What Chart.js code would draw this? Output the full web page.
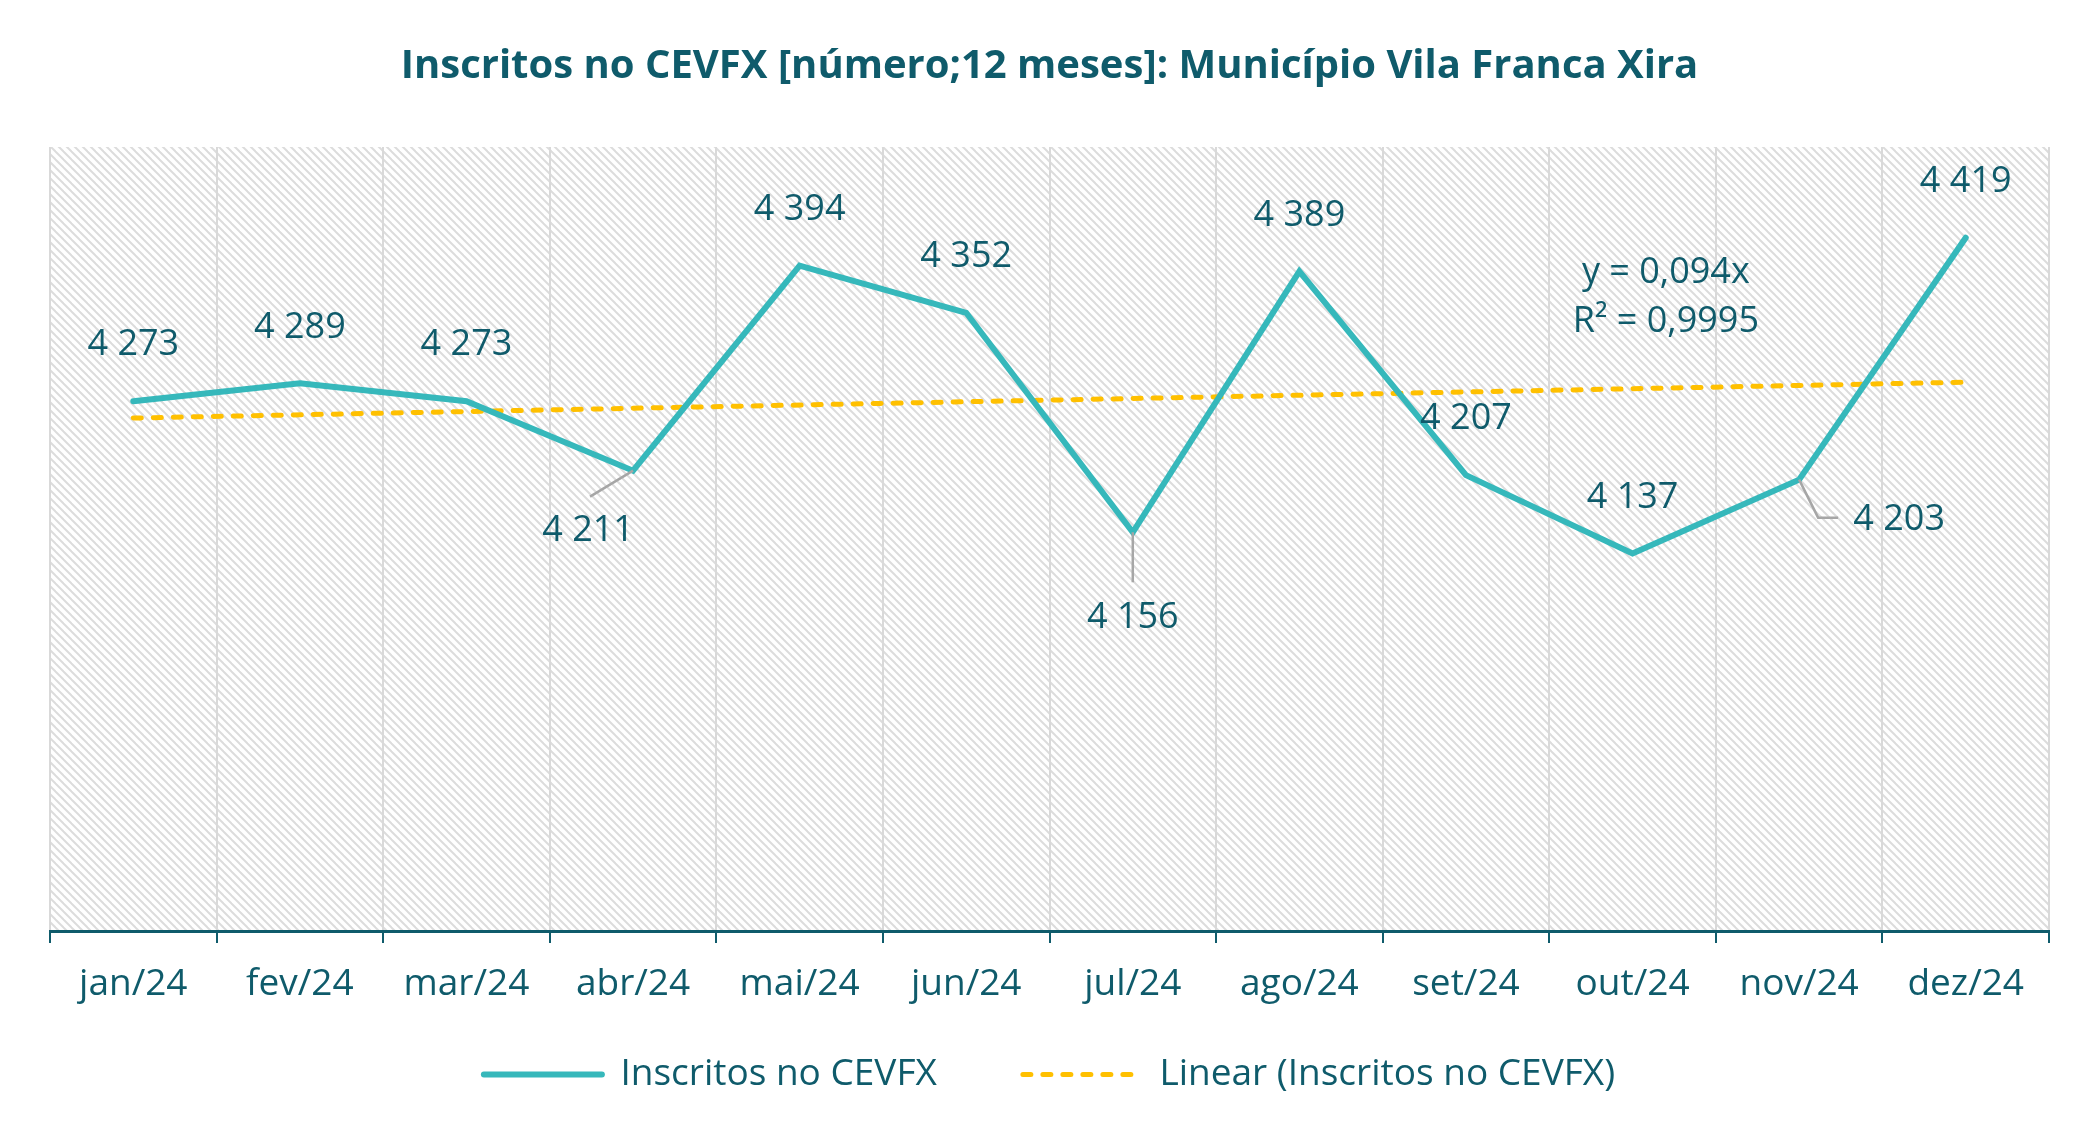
<!DOCTYPE html>
<html>
<head>
<meta charset="utf-8">
<title>Inscritos no CEVFX</title>
<script src="https://cdn.jsdelivr.net/npm/chart.js@4.4.1/dist/chart.umd.min.js"></script>
<style>
  html, body { margin: 0; padding: 0; background: #fff; }
  #wrap { width: 2100px; height: 1143px; }
</style>
</head>
<body>
<div id="wrap"><canvas id="myChart" width="2100" height="1143"></canvas></div>
<script>
// dados
var meses = ['jan/24', 'fev/24', 'mar/24', 'abr/24', 'mai/24', 'jun/24',
             'jul/24', 'ago/24', 'set/24', 'out/24', 'nov/24', 'dez/24'];
var inscritos = [4273, 4289, 4273, 4211, 4394, 4352, 4156, 4389, 4207, 4137, 4203, 4419];
// tendencia linear: so as pontas (jan e dez), o resto fica em branco
var tendencia = [4258, null, null, null, null, null, null, null, null, null, null, 4290];
var equacao = ['y = 0,094x', 'R² = 0,9995'];
var nomeSerie = 'Inscritos no CEVFX';
var nomeTendencia = 'Linear (Inscritos no CEVFX)';
var titulo = 'Inscritos no CEVFX [número;12 meses]: Município Vila Franca Xira';

var corTexto = '#0F5B6B';
var corLinha = '#36B8BB';
var corTend = '#FFC000';
var fonte = '"Open Sans", "Liberation Sans", sans-serif';

// onde fica cada rotulo em relacao ao ponto (px), e as linhas de chamada
var posRotulos = [
  {dx: 0, dy: -56}, {dx: 0, dy: -56}, {dx: 0, dy: -56},
  {dx: -45, dy: 60, guia: [[-43, 26]]},
  {dx: 0, dy: -56}, {dx: 0, dy: -56},
  {dx: 0, dy: 85, guia: [[0, 50]]},
  {dx: 0, dy: -56}, {dx: 0, dy: -56}, {dx: 0, dy: -56},
  {dx: 100, dy: 40, guia: [[19, 38], [39, 38]]},
  {dx: 0, dy: -56}
];
var posEquacao = {x: 9.2, y1: 4388, y2: 4344};
var subirLegenda = 39; // a legenda fica mais perto do eixo do que o chart.js deixa

function fmt(v) {
  return String(v).replace(/\B(?=(\d{3})+(?!\d))/g, ' ');
}

// padrao tracejado do fundo
function fazPadrao() {
  var c = document.createElement('canvas');
  c.width = 8; c.height = 8;
  var g = c.getContext('2d');
  g.fillStyle = '#fff';
  g.fillRect(0, 0, 8, 8);
  g.strokeStyle = '#DCDCDC';
  g.lineWidth = 2;
  for (var o = -8; o <= 8; o += 8) {
    g.beginPath();
    g.moveTo(o - 1, -1);
    g.lineTo(o + 9, 9);
    g.stroke();
  }
  return g.createPattern(c, 'repeat');
}

var fundoPlugin = {
  id: 'fundo',
  afterLayout: function(chart) {
    var lg = chart.legend;
    lg.top -= subirLegenda;
    lg.bottom -= subirLegenda;
  },
  beforeDraw: function(chart) {
    var a = chart.chartArea;
    var ctx = chart.ctx;
    ctx.save();
    ctx.fillStyle = fazPadrao();
    ctx.fillRect(a.left, a.top, a.right - a.left, a.bottom - a.top);
    ctx.restore();
  }
};

var rotulosPlugin = {
  id: 'rotulos',
  afterDatasetsDraw: function(chart) {
    var ctx = chart.ctx;
    var meta = chart.getDatasetMeta(0);
    ctx.save();
    ctx.font = '36px ' + fonte;
    ctx.fillStyle = corTexto;
    ctx.textBaseline = 'middle';
    ctx.textAlign = 'center';
    meta.data.forEach(function(pt, i) {
      var p = posRotulos[i];
      if (p.guia) {
        ctx.beginPath();
        ctx.moveTo(pt.x, pt.y);
        p.guia.forEach(function(g) { ctx.lineTo(pt.x + g[0], pt.y + g[1]); });
        ctx.strokeStyle = '#A6A6A6';
        ctx.lineWidth = 2.5;
        ctx.stroke();
      }
      ctx.fillText(fmt(inscritos[i]), pt.x + p.dx, pt.y + p.dy);
    });
    // equacao da tendencia
    var xs = chart.scales.x, ys = chart.scales.y;
    var ex = xs.getPixelForValue(posEquacao.x);
    ctx.fillText(equacao[0], ex, ys.getPixelForValue(posEquacao.y1));
    ctx.fillText(equacao[1], ex, ys.getPixelForValue(posEquacao.y2));
    ctx.restore();
  }
};

var ctx = document.getElementById('myChart').getContext('2d');
var chart = new Chart(ctx, {
  type: 'line',
  data: {
    labels: meses,
    datasets: [{
      label: nomeSerie,
      data: inscritos,
      borderColor: corLinha,
      backgroundColor: corLinha,
      borderWidth: 6,
      borderCapStyle: 'round',
      pointRadius: 0,
      pointStyle: 'line',
      tension: 0,
      clip: false,
      order: 1
    }, {
      label: nomeTendencia,
      data: tendencia,
      spanGaps: true,
      borderColor: corTend,
      backgroundColor: corTend,
      borderWidth: 5,
      borderDash: [8, 12],
      borderCapStyle: 'round',
      pointRadius: 0,
      pointStyle: 'line',
      clip: false,
      order: 2
    }]
  },
  options: {
    responsive: false,
    animation: false,
    devicePixelRatio: 1,
    layout: { padding: { left: 50, right: 51, top: 0, bottom: 1 } },
    plugins: {
      title: {
        display: true,
        text: titulo,
        color: corTexto,
        font: { family: fonte, size: 40, weight: 'bold' },
        padding: { top: 43, bottom: 56 }
      },
      legend: {
        position: 'bottom',
        labels: {
          usePointStyle: true,
          pointStyleWidth: 118,
          padding: 86,
          color: corTexto,
          font: { family: fonte, size: 37 },
          // o tracejado e as pontas redondas nao passam sozinhos para a legenda
          generateLabels: function(chart) {
            var itens = Chart.defaults.plugins.legend.labels.generateLabels(chart);
            itens.forEach(function(it) {
              var ds = chart.data.datasets[it.datasetIndex];
              it.lineDash = ds.borderDash || [];
              it.lineCap = 'round';
              it.lineWidth = ds.borderWidth;
            });
            return itens;
          }
        }
      },
      tooltip: { enabled: false }
    },
    scales: {
      x: {
        offset: true,
        grid: {
          offset: true,
          color: '#D9D9D9',
          lineWidth: 2,
          tickLength: 12,
          tickColor: corTexto,
          tickWidth: 2
        },
        border: { color: corTexto, width: 3 },
        ticks: {
          color: corTexto,
          padding: 19,
          font: { family: fonte, size: 37 }
        },
        afterFit: function(scale) { scale.height = 78; }
      },
      y: {
        display: false,
        min: 3800,
        max: 4500
      }
    }
  },
  plugins: [fundoPlugin, rotulosPlugin]
});
</script>
</body>
</html>
